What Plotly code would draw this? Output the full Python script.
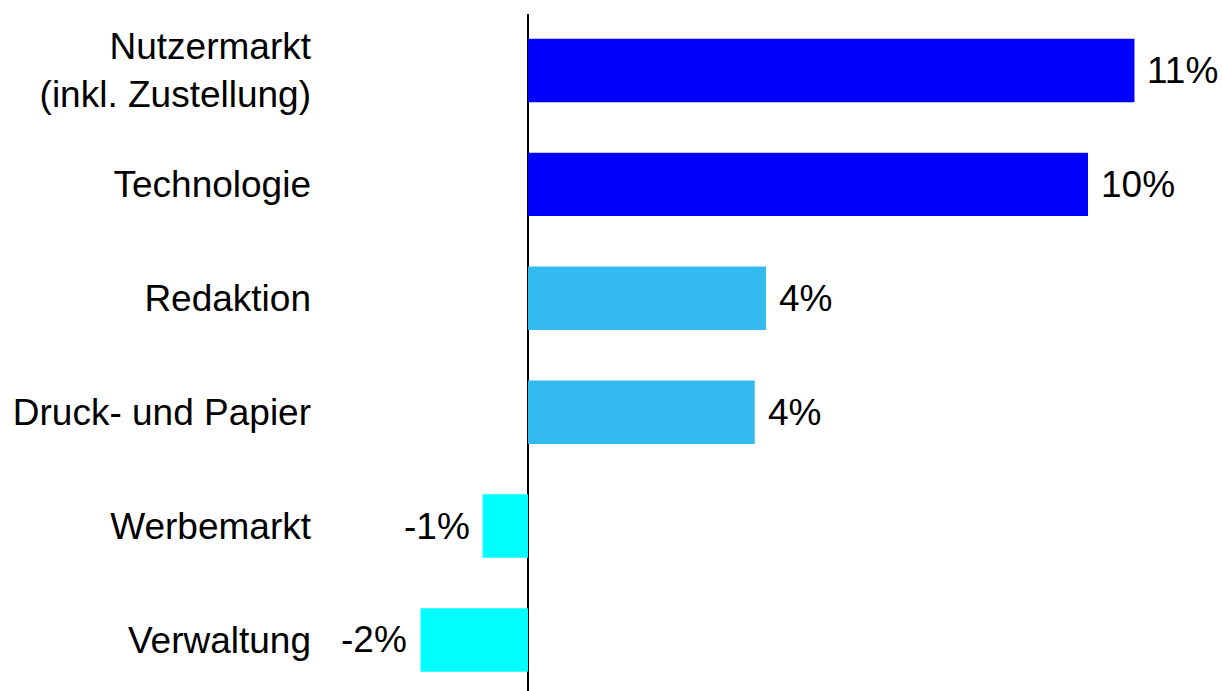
import plotly.graph_objects as go

# Categories (top to bottom) and change values in percent
categories = [
    "Nutzermarkt<br>(inkl. Zustellung)",
    "Technologie",
    "Redaktion",
    "Druck- und Papier",
    "Werbemarkt",
    "Verwaltung",
]
values = [10.83, 10.0, 4.25, 4.05, -0.81, -1.92]
bar_colors = ["#0000FF", "#0000FF", "#33BBF0", "#33BBF0", "#00FFFF", "#00FFFF"]

FONT = "Liberation Sans, Arial, sans-serif"
FONT_SIZE = 37

fig = go.Figure(
    go.Bar(
        x=values,
        y=categories,
        orientation="h",
        marker=dict(color=bar_colors, line=dict(width=0)),
        width=0.557,
        hoverinfo="skip",
    )
)

# Value labels beside each bar end
for cat, v in zip(categories, values):
    fig.add_annotation(
        x=v,
        y=cat,
        xref="x",
        yref="y",
        text=f"{v:.0f}%",
        showarrow=False,
        xanchor="left" if v >= 0 else "right",
        xshift=11 if v >= 0 else -11,
        yanchor="middle",
        font=dict(family=FONT, size=FONT_SIZE, color="#000000"),
    )

fig.update_layout(
    width=1222,
    height=691,
    margin=dict(l=320, r=0, t=14, b=0),
    paper_bgcolor="white",
    plot_bgcolor="white",
    showlegend=False,
    font=dict(family=FONT, size=FONT_SIZE, color="#000000"),
    xaxis=dict(
        range=[-3.714, 12.393],
        showgrid=False,
        showticklabels=False,
        ticks="",
        zeroline=True,
        zerolinecolor="#000000",
        zerolinewidth=2,
        showline=False,
    ),
    yaxis=dict(
        type="category",
        categoryorder="array",
        categoryarray=categories,
        range=[5.448, -0.496],
        showgrid=False,
        ticks="",
        showline=False,
        zeroline=False,
        ticklabelstandoff=8,
        tickfont=dict(family=FONT, size=FONT_SIZE, color="#000000"),
    ),
)

fig.write_html("out.html")
